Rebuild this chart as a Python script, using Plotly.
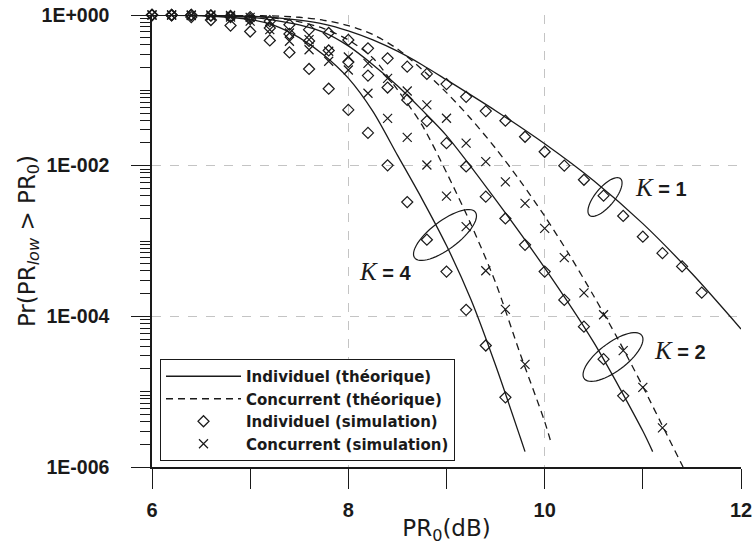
import numpy as np
import plotly.graph_objects as go

# ---------------- data ----------------
# Simulation points (PR0 in dB, probability)
sim_x_k1 = [6.0, 6.2, 6.4, 6.6, 6.8, 7.0, 7.2, 7.4, 7.6, 7.8, 8.0, 8.2, 8.4, 8.6, 8.8, 9.0,
            9.2, 9.4, 9.6, 9.8, 10.0, 10.2, 10.4, 10.6, 10.8, 11.0, 11.2, 11.4, 11.6]
sim_ind_k1 = [1.0, 1.0, 1.0, 0.985, 0.97, 0.94, 0.83, 0.743, 0.638, 0.577, 0.466, 0.361, 0.266,
              0.206, 0.165, 0.121, 0.082, 0.053, 0.0395, 0.0242, 0.0153, 0.0100, 0.0065, 0.0040,
              0.00215, 0.00114, 0.00069, 0.00046, 0.000206]

sim_x_k2_ind = [6.0, 6.2, 6.4, 6.6, 6.8, 7.0, 7.2, 7.4, 7.6, 7.8, 8.0, 8.2, 8.4, 8.6, 8.8, 9.0,
                9.2, 9.4, 9.6, 9.8, 10.0, 10.2, 10.4, 10.6, 10.8]
sim_ind_k2 = [1.0, 1.0, 1.0, 0.98, 0.94, 0.885, 0.672, 0.56, 0.452, 0.338, 0.238, 0.157, 0.109,
              0.0745, 0.0391, 0.0199, 0.00975, 0.00388, 0.00199, 0.00089, 0.000393, 0.000165,
              7.3e-5, 2.7e-5, 8.8e-6]

sim_x_k4_ind = [6.0, 6.2, 6.4, 6.6, 6.8, 7.0, 7.2, 7.4, 7.6, 7.8, 8.0, 8.2, 8.4, 8.6, 8.8, 9.0,
                9.2, 9.4, 9.6]
sim_ind_k4 = [1.0, 0.985, 0.94, 0.858, 0.725, 0.604, 0.459, 0.318, 0.192, 0.105, 0.0549, 0.0272,
              0.0101, 0.00329, 0.00104, 0.000393, 0.000122, 4.1e-5, 8.4e-6]

sim_x_k2_con = [6.0, 6.2, 6.4, 6.6, 6.8, 7.0, 7.2, 7.4, 7.6, 7.8, 8.0, 8.2, 8.4, 8.6, 8.8, 9.0,
                9.2, 9.4, 9.6, 9.8, 10.0, 10.2, 10.4, 10.6, 10.8, 11.0, 11.2]
sim_con_k2 = [1.0, 1.0, 1.0, 1.0, 0.985, 0.93, 0.825, 0.577, 0.47, 0.33, 0.277, 0.228, 0.144,
              0.098, 0.064, 0.0426, 0.0199, 0.0113, 0.0061, 0.00316, 0.00147, 0.000602,
              0.000205, 0.000105, 3.5e-5, 1.14e-5, 3.3e-6]

sim_x_k4_con = [6.0, 6.2, 6.4, 6.6, 6.8, 7.0, 7.2, 7.4, 7.6, 7.8, 8.0, 8.2, 8.4, 8.6, 8.8, 9.0,
                9.2, 9.4, 9.6, 9.8]
sim_con_k4 = [1.0, 1.0, 0.985, 0.97, 0.94, 0.83, 0.638, 0.448, 0.346, 0.243, 0.186, 0.0915,
              0.0425, 0.0237, 0.0102, 0.00394, 0.00155, 0.000403, 0.000124, 2.3e-5]

# Theoretical curves
th_x_k1_ind = [6.0, 6.5, 7.0, 7.25, 7.5, 7.75, 8.0, 8.25, 8.5, 8.75, 9.0, 9.5, 10.0, 10.5, 11.0,
               11.5, 12.0]
th_k1_ind = [1.0, 0.991, 0.962, 0.923, 0.855, 0.759, 0.617, 0.468, 0.331, 0.219, 0.138, 0.0537,
             0.0195, 0.0063, 0.0017, 3.7e-4, 6.8e-5]

th_x_k2_ind = [6.0, 6.5, 7.0, 7.25, 7.5, 7.75, 8.0, 8.25, 8.5, 8.75, 9.0, 9.5, 10.0, 10.5, 11.0,
               11.1]
th_k2_ind = [1.0, 0.989, 0.933, 0.851, 0.741, 0.589, 0.389, 0.219, 0.115, 0.055, 0.0251, 0.00355,
             4.4e-4, 4.5e-5, 3.0e-6, 1.6e-6]

th_x_k2_con = [6.0, 7.0, 7.5, 7.75, 8.0, 8.25, 8.5, 8.75, 9.0, 9.25, 9.5, 9.75, 10.0, 10.25, 10.5,
               10.75, 11.0, 11.25, 11.41]
th_k2_con = [1.0, 0.989, 0.933, 0.851, 0.724, 0.55, 0.355, 0.19, 0.0933, 0.0417, 0.017, 0.0063,
             0.00214, 6.6e-4, 1.86e-4, 4.9e-5, 1.17e-5, 2.6e-6, 1.0e-6]

th_x_k4_ind = [6.0, 6.5, 7.0, 7.25, 7.5, 7.75, 8.0, 8.25, 8.5, 8.75, 9.0, 9.25, 9.5, 9.75, 9.8]
th_k4_ind = [1.0, 0.977, 0.871, 0.724, 0.501, 0.295, 0.145, 0.0525, 0.0138, 0.00363, 8.7e-4,
             1.66e-4, 2.24e-5, 2.5e-6, 1.6e-6]

th_x_k4_con = [6.0, 6.5, 7.0, 7.25, 7.5, 7.75, 8.0, 8.25, 8.5, 8.75, 9.0, 9.25, 9.5, 9.75, 10.0,
               10.07]
th_k4_con = [1.0, 0.995, 0.966, 0.912, 0.813, 0.661, 0.468, 0.269, 0.102, 0.0347, 0.00813,
             0.00166, 2.8e-4, 3.2e-5, 4.0e-6, 2.0e-6]

x_tickvals = [6, 8, 10, 12]
y_tickvals = [1, 1e-2, 1e-4, 1e-6]
y_ticktext = ["1E+000", "1E-002", "1E-004", "1E-006"]

legend_names = ["Individuel (théorique)", "Concurrent (théorique)",
                "Individuel (simulation)", "Concurrent (simulation)"]

# ---------------- figure ----------------
W, H = 755, 545
ML, MR, MT, MB = 152, 14, 15, 78
PW, PH = W - ML - MR, H - MT - MB

INK = "#1a1a1a"
fig = go.Figure()


def add_line(x, y, dash, name, show):
    fig.add_trace(go.Scatter(
        x=x, y=y, mode="lines", name=name, legendgroup=name, showlegend=show,
        line=dict(color=INK, width=1.3, dash=dash, shape="spline", smoothing=0.8),
        cliponaxis=False))


def add_markers(x, y, symbol, size, name, show):
    fig.add_trace(go.Scatter(
        x=x, y=y, mode="markers", name=name, legendgroup=name, showlegend=show,
        marker=dict(symbol=symbol, size=size, color=INK,
                    line=dict(color=INK, width=1.2)),
        cliponaxis=False))


add_line(th_x_k1_ind, th_k1_ind, "solid", legend_names[0], True)
add_line(th_x_k2_ind, th_k2_ind, "solid", legend_names[0], False)
add_line(th_x_k4_ind, th_k4_ind, "solid", legend_names[0], False)
add_line(th_x_k2_con, th_k2_con, "7px,5px", legend_names[1], True)
add_line(th_x_k4_con, th_k4_con, "7px,5px", legend_names[1], False)
add_markers(sim_x_k1, sim_ind_k1, "diamond-open", 8.5, legend_names[2], True)
add_markers(sim_x_k2_ind, sim_ind_k2, "diamond-open", 8.5, legend_names[2], False)
add_markers(sim_x_k4_ind, sim_ind_k4, "diamond-open", 8.5, legend_names[2], False)
add_markers(sim_x_k2_con, sim_con_k2, "x-thin-open", 9, legend_names[3], True)
add_markers(sim_x_k4_con, sim_con_k4, "x-thin-open", 9, legend_names[3], False)


# tilted ellipses (annotation decorations, pixel geometry -> paper coords)
def ellipse_path(cx, cy, a, b, ang):
    t = np.linspace(0, 2 * np.pi, 60)
    th = np.radians(ang)
    ex = cx + a * np.cos(t) * np.cos(th) - b * np.sin(t) * np.sin(th)
    ey = cy - (a * np.cos(t) * np.sin(th) + b * np.sin(t) * np.cos(th))
    fx = (ex - ML) / PW
    fy = (H - MB - ey) / PH
    pts = [f"{x:.5f},{y:.5f}" for x, y in zip(fx, fy)]
    return "M" + " L".join(pts) + " Z"


for (cx, cy, a, b, ang) in [(605, 197, 24, 9.5, 50), (445, 235, 38, 14, 37), (613, 357, 36, 14, 37)]:
    fig.add_shape(type="path", xref="paper", yref="paper", path=ellipse_path(cx, cy, a, b, ang),
                  line=dict(color=INK, width=1.2))

k_labels = [("1", 11.185, -2.29), ("4", 8.37, -3.40), ("2", 11.38, -4.45)]
for k, xx, yy in k_labels:
    fig.add_annotation(
        x=xx, y=yy, xref="x", yref="y", showarrow=False, xanchor="center", yanchor="middle",
        text=('<span style="font-family:\'Liberation Serif\';font-style:italic;font-size:25px;'
              'font-weight:normal">K</span> <b>= ' + k + '</b>'),
        font=dict(family="Liberation Sans", size=20, color=INK))

axis_common = dict(showline=True, linecolor=INK, linewidth=1.5, ticks="outside",
                   tickcolor=INK, tickwidth=1.4, showgrid=True, gridcolor="#c4c4c4",
                   griddash="dash", gridwidth=1, zeroline=False, automargin=False,
                   mirror=False)

fig.update_xaxes(
    **axis_common, range=[6, 12], tickmode="array", tickvals=x_tickvals,
    ticktext=[str(v) for v in x_tickvals], ticklen=20, ticklabelstandoff=4,
    tickfont=dict(family="Liberation Sans", size=20, color=INK, weight="bold"),
    minor=dict(tickmode="linear", tick0=6, dtick=1, ticks="outside", ticklen=20,
               tickcolor=INK, tickwidth=1.4, showgrid=False),
    title=dict(text="PR<sub>0</sub>(dB)", standoff=0,
               font=dict(family="DejaVu Sans", size=23, color=INK)))

fig.update_yaxes(
    **axis_common, type="log", range=[-6, 0], tickmode="array", tickvals=y_tickvals,
    ticktext=y_ticktext, ticklen=19, ticklabelstandoff=18,
    tickfont=dict(family="Liberation Sans", size=19.5, color=INK, weight="bold"),
    minor=dict(ticks="outside", ticklen=10, dtick="D1", tickcolor=INK, tickwidth=1.2,
               showgrid=False),
    title=dict(text="Pr(PR<sub><i>low</i></sub> > PR<sub>0</sub>)", standoff=0,
               font=dict(family="DejaVu Sans", size=23, color=INK)))

fig.update_layout(
    width=W, height=H, autosize=False,
    margin=dict(l=ML, r=MR, t=MT, b=MB, pad=0),
    paper_bgcolor="white", plot_bgcolor="white",
    legend=dict(x=(160 - ML) / PW, y=(H - MB - 461) / PH, xanchor="left", yanchor="bottom",
                bgcolor="white", bordercolor=INK, borderwidth=1, tracegroupgap=0,
                font=dict(family="DejaVu Sans", size=15, color=INK, weight="bold"),
                itemwidth=75),
)

fig.write_html("out.html", config={"displayModeBar": False},
               post_script="document.body.style.margin='0';document.body.style.padding='0';")
